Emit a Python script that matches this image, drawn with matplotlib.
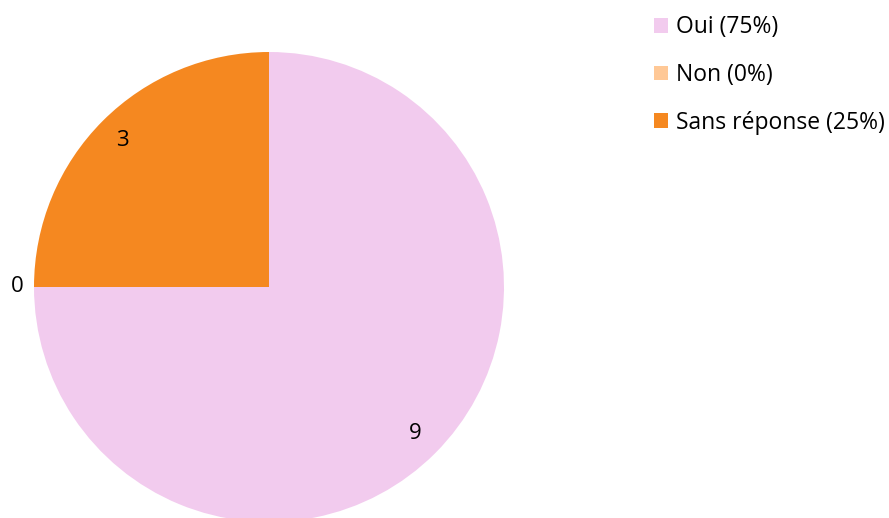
import matplotlib
matplotlib.use("Agg")
import matplotlib.pyplot as plt

categories = ["Oui", "Non", "Sans réponse"]
values = [9, 0, 3]
percents = ["75%", "0%", "25%"]
colors = ["#F2CBEE", "#FFC896", "#F58820"]

plt.rcParams['font.family'] = ['Open Sans', 'DejaVu Sans']

fig = plt.figure(figsize=(8.89, 5.18), dpi=100)
ax = fig.add_axes([34/889, -4/518, 470/889, 470/518])
wedges, texts = ax.pie(values, colors=colors, startangle=90, counterclock=False,
                       labels=[str(v) for v in values], labeldistance=0.88,
                       textprops=dict(fontsize=16, color="black"),
                       wedgeprops=dict(linewidth=0))
for t, v in zip(texts, values):
    t.set_ha("center"); t.set_va("center")
    if v == 0:
        x, y = t.get_position()
        t.set_position((x / 0.88 * 1.07, y / 0.88 * 1.07))
ax.set_xlim(-1, 1); ax.set_ylim(-1, 1)
ax.set_aspect("equal")

leg_labels = [f"{c} ({p})" for c, p in zip(categories, percents)]
fig.legend(wedges, leg_labels, loc="upper left", bbox_to_anchor=(645/889, 1 - 6/518),
           frameon=False, fontsize=16.5, handlelength=0.62, handleheight=0.62,
           handletextpad=0.35, labelspacing=1.04, borderaxespad=0)
fig.savefig("out.png", dpi=100)
